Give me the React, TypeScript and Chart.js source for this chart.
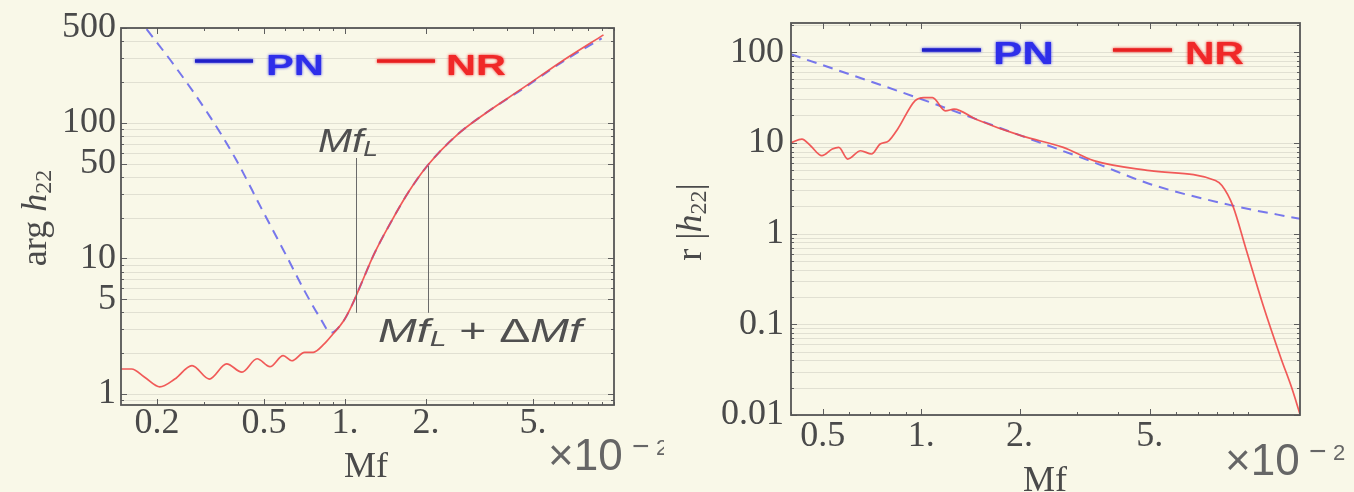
import React, { useEffect, useRef } from "react";
import { Chart, registerables } from "chart.js";

Chart.register(...registerables);

const BG = "#f9f8e8";

// ---------- left panel : arg h22 ----------
const phaseNRMf = [0.147, 0.161, 0.18, 0.205, 0.233, 0.27, 0.313, 0.363, 0.414, 0.471, 0.526, 0.589, 0.634, 0.708, 0.762, 0.837, 0.902, 0.989, 1.065, 1.146, 1.281, 1.486, 1.725, 2.03, 2.593, 3.36, 4.52, 6.55, 9.14];
const phaseNRVal = [1.53, 1.53, 1.33, 1.13, 1.29, 1.62, 1.29, 1.67, 1.45, 1.82, 1.59, 1.92, 1.76, 2.03, 2.03, 2.34, 2.77, 3.47, 4.58, 6.42, 10.7, 18.7, 31, 48.6, 80.5, 119, 177, 293, 445];
const phasePNMf = [0.183, 0.233, 0.313, 0.392, 0.489, 0.611, 0.708, 0.807, 0.887, 0.989, 1.065, 1.146, 1.281, 1.486, 1.725, 2.03, 2.593, 3.36, 4.52, 6.55, 9.0];
const phasePNVal = [490, 262, 113, 54.3, 23.4, 10.1, 5.74, 3.66, 2.83, 3.47, 4.58, 6.42, 10.7, 18.7, 31, 48.6, 80.5, 119, 175, 288, 420];

// ---------- right panel : r |h22| ----------
const ampNRMf = [0.4, 0.432, 0.459, 0.497, 0.535, 0.56, 0.596, 0.653, 0.705, 0.749, 0.796, 0.847, 0.957, 1.02, 1.083, 1.186, 1.261, 1.47, 2.03, 2.72, 3.37, 5.0, 7.94, 8.31, 8.97, 9.84, 11.1, 12.6, 13.6, 14.4];
const ampNRVal = [10.0, 11.0, 9.28, 7.21, 8.53, 8.9, 6.62, 8.17, 7.52, 9.69, 10.5, 14.1, 29, 31.5, 31.5, 22.5, 23.5, 18.2, 11.9, 8.9, 6.36, 4.93, 3.84, 3.38, 2.03, 0.68, 0.163, 0.042, 0.0197, 0.0102];
const ampPNMf = [0.4, 0.97, 2.03, 3.37, 5.0, 8.97, 14.4];
const ampPNVal = [94.4, 31.5, 11.9, 6.09, 3.52, 2.03, 1.45];

// ---------- ticks ----------
const leftXTickVals = [0.2, 0.5, 1, 2, 5];
const leftXTickText = ["0.2", "0.5", "1.", "2.", "5."];
const leftYTickVals = [500, 100, 50, 10, 5, 1];
const leftYTickText = ["500", "100", "50", "10", "5", "1"];
const rightXTickVals = [0.5, 1, 2, 5];
const rightXTickText = ["0.5", "1.", "2.", "5."];
const rightYTickVals = [100, 10, 1, 0.1, 0.01];
const rightYTickText = ["100", "10", "1", "0.1", "0.01"];

// ---------- annotation markers (left panel) ----------
const markerMf = [1.1, 2.03];
const markerTop = [55, 48];
const markerBottom = [3.97, 3.97];

const pts = (xs: number[], ys: number[]) => xs.map((x, i) => ({ x, y: ys[i] }));

type Part = { t: string; font: string; dy?: number };

function drawParts(ctx: CanvasRenderingContext2D, parts: Part[], x: number, y: number, align: "left" | "center", targetW?: number) {
  let w = 0;
  for (const p of parts) {
    ctx.font = p.font;
    w += ctx.measureText(p.t).width;
  }
  const sx = targetW ? targetW / w : 1;
  ctx.save();
  ctx.translate(x, y);
  ctx.scale(sx, 1);
  let cx = align === "center" ? -w / 2 : 0;
  ctx.textAlign = "left";
  for (const p of parts) {
    ctx.font = p.font;
    ctx.fillText(p.t, cx, p.dy || 0);
    cx += ctx.measureText(p.t).width;
  }
  ctx.restore();
}

function logMinor(min: number, max: number) {
  const out: number[] = [];
  for (let e = Math.floor(Math.log10(min)) - 1; e <= Math.ceil(Math.log10(max)); e++) {
    for (let k = 1; k < 10; k++) {
      const v = k * Math.pow(10, e);
      if (v >= min * 0.999 && v <= max * 1.001) out.push(v);
    }
  }
  return out;
}

const SERIF = "'Liberation Serif', 'DejaVu Serif', serif";
const SANS = "'Liberation Sans', Arial, sans-serif";

type Entry = { l0: number; l1: number; tx: number; tw: number };
type Cfg = {
  xTicks: number[];
  xText: string[];
  yTicks: number[];
  yText: string[];
  xLabelY: number;
  yLabelX: number;
  xTitle: { x: number; y: number };
  yTitle: { x: number; y: number; parts: Part[] };
  mult: { x: number; y: number };
  legend: { y: number; base: number; font: number; pn: Entry; nr: Entry };
  extra?: (chart: any) => void;
};

function makePlugin(cfg: Cfg) {
  return {
    id: "panelDecor",
    beforeDraw(chart: any) {
      const { ctx, width, height, chartArea: a, scales } = chart;
      ctx.save();
      ctx.fillStyle = BG;
      ctx.fillRect(0, 0, width, height);
      ctx.strokeStyle = "rgba(90,90,90,0.15)";
      ctx.lineWidth = 1;
      for (const v of logMinor(scales.y.min, scales.y.max)) {
        const y = Math.round(scales.y.getPixelForValue(v)) + 0.5;
        ctx.beginPath();
        ctx.moveTo(a.left, y);
        ctx.lineTo(a.right, y);
        ctx.stroke();
      }
      ctx.restore();
    },
    afterDraw(chart: any) {
      const { ctx, chartArea: a, scales } = chart;
      const xs = scales.x;
      const ys = scales.y;
      ctx.save();
      // frame ticks
      ctx.strokeStyle = "#5e5e5e";
      ctx.lineWidth = 1;
      for (const v of logMinor(xs.min, xs.max)) {
        const px = Math.round(xs.getPixelForValue(v)) + 0.5;
        const major = cfg.xTicks.some((t) => Math.abs(t - v) < 1e-6 * v);
        const L = major ? 6 : 3;
        ctx.beginPath();
        ctx.moveTo(px, a.bottom);
        ctx.lineTo(px, a.bottom - L);
        ctx.moveTo(px, a.top);
        ctx.lineTo(px, a.top + L);
        ctx.stroke();
      }
      for (const v of logMinor(ys.min, ys.max)) {
        const py = Math.round(ys.getPixelForValue(v)) + 0.5;
        const major = cfg.yTicks.some((t) => Math.abs(t - v) < 1e-6 * v);
        const L = major ? 6 : 3;
        ctx.beginPath();
        ctx.moveTo(a.left, py);
        ctx.lineTo(a.left + L, py);
        ctx.moveTo(a.right, py);
        ctx.lineTo(a.right - L, py);
        ctx.stroke();
      }
      // frame
      ctx.strokeStyle = "#565656";
      ctx.lineWidth = 1.8;
      ctx.strokeRect(a.left, a.top, a.right - a.left, a.bottom - a.top);

      // tick labels
      ctx.fillStyle = "#4a4a4a";
      ctx.font = `36px ${SERIF}`;
      ctx.textBaseline = "middle";
      ctx.textAlign = "center";
      cfg.xTicks.forEach((v, i) => {
        ctx.fillText(cfg.xText[i], xs.getPixelForValue(v), cfg.xLabelY);
      });
      ctx.textAlign = "right";
      cfg.yTicks.forEach((v, i) => {
        ctx.fillText(cfg.yText[i], cfg.yLabelX, ys.getPixelForValue(v));
      });

      // axis titles
      ctx.textBaseline = "alphabetic";
      ctx.textAlign = "center";
      ctx.font = `36px ${SERIF}`;
      ctx.fillText("Mf", cfg.xTitle.x, cfg.xTitle.y);
      ctx.save();
      ctx.translate(cfg.yTitle.x, cfg.yTitle.y);
      ctx.rotate(-Math.PI / 2);
      ctx.textBaseline = "middle";
      drawParts(ctx, cfg.yTitle.parts, 0, 0, "center");
      ctx.restore();

      // multiplier x10^-2
      ctx.fillStyle = "#666666";
      ctx.textBaseline = "alphabetic";
      ctx.textAlign = "left";
      ctx.font = `44px ${SANS}`;
      ctx.fillText("\u00d710", cfg.mult.x, cfg.mult.y);
      ctx.font = `30px ${SANS}`;
      ctx.fillText("\u2212", cfg.mult.x + 84, cfg.mult.y - 14);
      ctx.font = `22px ${SANS}`;
      ctx.fillText("2", cfg.mult.x + 108, cfg.mult.y - 15);

      // legend
      const lg = cfg.legend;
      const drawEntry = (e: Entry, lineColor: string, color: string, label: string) => {
        ctx.save();
        ctx.shadowColor = color;
        ctx.shadowBlur = 3;
        ctx.strokeStyle = lineColor;
        ctx.lineWidth = 3.5;
        ctx.beginPath();
        ctx.moveTo(e.l0, lg.y);
        ctx.lineTo(e.l1, lg.y);
        ctx.stroke();
        ctx.fillStyle = color;
        ctx.textBaseline = "alphabetic";
        drawParts(ctx, [{ t: label, font: `bold ${lg.font}px ${SANS}` }], e.tx, lg.base, "left", e.tw);
        ctx.restore();
      };
      drawEntry(lg.pn, "#2020c8", "#2e2eea", "PN");
      drawEntry(lg.nr, "#e82020", "#f02828", "NR");

      if (cfg.extra) cfg.extra(chart);
      ctx.restore();
    },
  };
}

function buildChart(canvas: HTMLCanvasElement, opts: {
  nr: { x: number; y: number }[];
  pn: { x: number; y: number }[];
  xMin: number; xMax: number; yMin: number; yMax: number;
  padding: { left: number; right: number; top: number; bottom: number };
  cfg: Cfg;
}) {
  return new Chart(canvas, {
    type: "scatter",
    data: {
      datasets: [
        {
          label: "NR",
          data: opts.nr,
          showLine: true,
          borderColor: "rgba(240,72,72,0.9)",
          borderWidth: 1.7,
          pointRadius: 0,
          cubicInterpolationMode: "monotone",
          order: 0,
        } as any,
        {
          label: "PN",
          data: opts.pn,
          showLine: true,
          borderColor: "rgba(104,104,236,0.9)",
          borderWidth: 2,
          borderDash: [10, 7],
          pointRadius: 0,
          cubicInterpolationMode: "monotone",
          order: 1,
        } as any,
      ],
    },
    options: {
      animation: false,
      responsive: false,
      devicePixelRatio: 1,
      layout: { padding: opts.padding },
      scales: {
        x: { type: "logarithmic", min: opts.xMin, max: opts.xMax, display: false },
        y: { type: "logarithmic", min: opts.yMin, max: opts.yMax, display: false },
      },
      plugins: { legend: { display: false }, tooltip: { enabled: false } },
    },
    plugins: [makePlugin(opts.cfg) as any],
  });
}

const H = 492;
const LEFT_W = 664;
const RIGHT_X = LEFT_W;
const RIGHT_W = 1354 - LEFT_W;

function LeftPanel() {
  const ref = useRef<HTMLCanvasElement>(null);
  useEffect(() => {
    const cfg: Cfg = {
      xTicks: leftXTickVals,
      xText: leftXTickText,
      yTicks: leftYTickVals,
      yText: leftYTickText,
      xLabelY: 424,
      yLabelX: 116,
      xTitle: { x: 366, y: 477 },
      yTitle: {
        x: 37,
        y: 218,
        parts: [
          { t: "arg ", font: `36px ${SERIF}` },
          { t: "h", font: `italic 36px ${SERIF}` },
          { t: "22", font: `24px ${SERIF}`, dy: 8 },
        ],
      },
      mult: { x: 548, y: 470 },
      legend: {
        y: 61,
        base: 75,
        font: 30,
        pn: { l0: 195, l1: 253, tx: 266, tw: 58 },
        nr: { l0: 377, l1: 435, tx: 446, tw: 60 },
      },
      extra: (chart: any) => {
        const { ctx, scales } = chart;
        ctx.save();
        ctx.strokeStyle = "#6a6a6a";
        ctx.lineWidth = 1;
        markerMf.forEach((m, i) => {
          const x = Math.round(scales.x.getPixelForValue(m)) + 0.5;
          ctx.beginPath();
          ctx.moveTo(x, scales.y.getPixelForValue(markerTop[i]));
          ctx.lineTo(x, scales.y.getPixelForValue(markerBottom[i]));
          ctx.stroke();
        });
        ctx.fillStyle = "#505050";
        ctx.textBaseline = "alphabetic";
        drawParts(
          ctx,
          [
            { t: "Mf", font: `italic 34px ${SANS}` },
            { t: "L", font: `italic 22px ${SANS}`, dy: 4 },
          ],
          318,
          152,
          "left",
          60
        );
        drawParts(
          ctx,
          [
            { t: "Mf", font: `italic 34px ${SANS}` },
            { t: "L", font: `italic 22px ${SANS}`, dy: 4 },
            { t: " + ", font: `34px ${SANS}` },
            { t: "\u0394", font: `34px ${SANS}` },
            { t: "Mf", font: `italic 34px ${SANS}` },
          ],
          378,
          342,
          "left",
          204
        );
        ctx.restore();
      },
    };
    const chart = buildChart(ref.current!, {
      nr: pts(phaseNRMf, phaseNRVal),
      pn: pts(phasePNMf, phasePNVal),
      xMin: 0.147,
      xMax: 10,
      yMin: 0.83,
      yMax: 500,
      padding: { left: 121, right: LEFT_W - 614, top: 28, bottom: H - 405 },
      cfg,
    });
    return () => chart.destroy();
  }, []);
  return (
    <canvas
      ref={ref}
      width={LEFT_W}
      height={H}
      style={{ position: "absolute", left: 0, top: 0, width: LEFT_W, height: H, display: "block" }}
    />
  );
}

function RightPanel() {
  const ref = useRef<HTMLCanvasElement>(null);
  useEffect(() => {
    const o = RIGHT_X;
    const cfg: Cfg = {
      xTicks: rightXTickVals,
      xText: rightXTickText,
      yTicks: rightYTickVals,
      yText: rightYTickText,
      xLabelY: 437,
      yLabelX: 784 - o,
      xTitle: { x: 1045 - o, y: 491 },
      yTitle: {
        x: 692 - o,
        y: 222,
        parts: [
          { t: "r |", font: `36px ${SERIF}` },
          { t: "h", font: `italic 36px ${SERIF}` },
          { t: "22", font: `24px ${SERIF}`, dy: 8 },
          { t: "|", font: `36px ${SERIF}` },
        ],
      },
      mult: { x: 1225 - o, y: 475 },
      legend: {
        y: 50,
        base: 64,
        font: 32,
        pn: { l0: 922 - o, l1: 981 - o, tx: 993 - o, tw: 61 },
        nr: { l0: 1113 - o, l1: 1172 - o, tx: 1185 - o, tw: 59 },
      },
    };
    const chart = buildChart(ref.current!, {
      nr: pts(ampNRMf, ampNRVal),
      pn: pts(ampPNMf, ampPNVal),
      xMin: 0.4,
      xMax: 14.4,
      yMin: 0.01,
      yMax: 209,
      padding: { left: 791 - o, right: RIGHT_W - (1300 - o), top: 23, bottom: H - 415 },
      cfg,
    });
    return () => chart.destroy();
  }, []);
  return (
    <canvas
      ref={ref}
      width={RIGHT_W}
      height={H}
      style={{ position: "absolute", left: RIGHT_X, top: 0, width: RIGHT_W, height: H, display: "block" }}
    />
  );
}

export default function App() {
  return (
    <div
      style={{
        position: "fixed",
        left: 0,
        top: 0,
        width: 1354,
        height: H,
        background: BG,
        overflow: "hidden",
      }}
    >
      <LeftPanel />
      <RightPanel />
    </div>
  );
}
